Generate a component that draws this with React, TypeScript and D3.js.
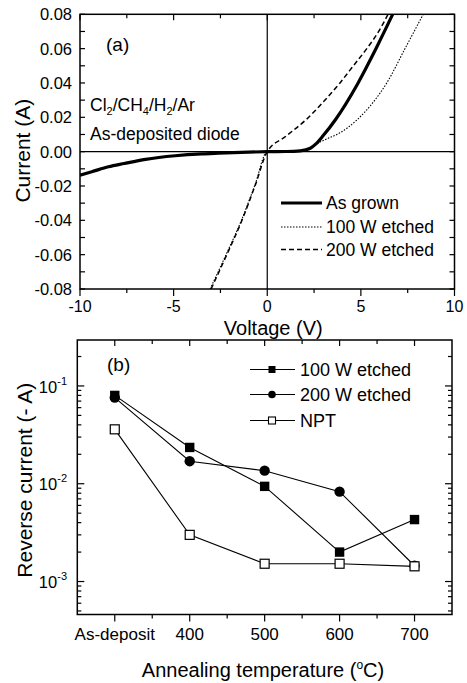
import React from 'react';
import * as d3 from 'd3';

// ---------- Panel (a): I-V curves ----------
const grownV = [-10, -9.37, -8.48, -7.64, -6.5, -4.92, -3.5, -2.6, -1, 0, 1, 1.76, 2.3, 2.6, 3.0, 3.64, 4.83, 5.83, 6.7];
const grownI = [-0.0137, -0.0117, -0.0088, -0.0069, -0.0045, -0.0024, -0.0013, -0.0009, -0.0003, 0, 0.0001, 0.0005, 0.002, 0.0045, 0.0095, 0.0186, 0.0396, 0.0605, 0.08];

const etched100V = [-3.05, -2.2, -1.38, -0.66, 0, 1, 1.8, 2.3, 2.6, 3.2, 3.81, 4.8, 5.6, 6.36, 7.38, 8.33];
const etched100I = [-0.08, -0.06, -0.04, -0.0195, 0, 0.0001, 0.0005, 0.0018, 0.0042, 0.0075, 0.0105, 0.0186, 0.028, 0.0396, 0.0605, 0.08];

const etched200V = [-3.0, -2.16, -1.35, -0.64, 0, 1.0, 2.07, 3.0, 3.85, 4.6, 5.35, 5.95, 6.45];
const etched200I = [-0.08, -0.06, -0.04, -0.0195, 0, 0.009, 0.0186, 0.029, 0.0396, 0.05, 0.0605, 0.07, 0.08];

const ivXTicks = [-10, -5, 0, 5, 10];
const ivYTicks = [-0.08, -0.06, -0.04, -0.02, 0, 0.02, 0.04, 0.06, 0.08];
const ivYTickLabels = ['-0.08', '-0.06', '-0.04', '-0.02', '0.00', '0.02', '0.04', '0.06', '0.08'];

// ---------- Panel (b): reverse current vs annealing ----------
const categories = ['As-deposit', '400', '500', '600', '700'];
const rev100W = [0.08, 0.0235, 0.0094, 0.002, 0.0043];
const rev200W = [0.076, 0.017, 0.0136, 0.0083, 0.00145];
const revNPT = [0.036, 0.003, 0.00152, 0.00152, 0.00143];
const logTicks = [0.1, 0.01, 0.001];
const logTickExp = ['-1', '-2', '-3'];

const FONT = '"Liberation Sans", Arial, Helvetica, sans-serif';

export default function App() {
  const W = 467, H = 683;

  // panel a scales
  const ax = d3.scaleLinear().domain([-10, 10]).range([80, 454.5]);
  const ay = d3.scaleLinear().domain([-0.08, 0.08]).range([289, 14.3]);
  const ivLine = d3.line<[number, number]>().x(d => ax(d[0])).y(d => ay(d[1])).curve(d3.curveMonotoneX);
  const zip = (a: number[], b: number[]) => a.map((v, i) => [v, b[i]] as [number, number]);

  // panel b scales
  const bx = d3.scaleLinear().domain([-0.5, 4.5]).range([77.3, 452]);
  const by = d3.scaleLog().domain([4.6e-4, 0.295]).range([614.5, 340]);
  const catLine = d3.line<number>().x((_, i) => bx(i)).y(d => by(d));

  const [ax0, ax1] = ax.range();
  const [ay1, ay0] = ay.range();
  const [bx0, bx1] = bx.range();
  const [by1, by0] = by.range();

  const aMinorX = d3.range(-10, 10.01, 2.5);
  const aMinorY = d3.range(-0.08, 0.0801, 0.01);
  const bMinorX = d3.range(-0.5, 4.51, 0.5);
  const logMinor: number[] = [];
  [1e-4, 1e-3, 1e-2, 1e-1].forEach(dec => {
    for (let k = 1; k <= 9; k++) {
      const v = dec * k;
      if (v >= 4.6e-4 && v <= 0.295) logMinor.push(v);
    }
  });

  return (
    <svg width={W} height={H} style={{ position: 'absolute', left: 0, top: 0, background: '#fff' }} fontFamily={FONT}>
      <rect x={0} y={0} width={W} height={H} fill="#fff" />
      <defs>
        <clipPath id="clipA"><rect x={ax0} y={ay0} width={ax1 - ax0} height={ay1 - ay0} /></clipPath>
      </defs>

      {/* ===== Panel a ===== */}
      {/* zero lines */}
      <line x1={ax(0)} x2={ax(0)} y1={ay0} y2={ay1} stroke="#000" strokeWidth={1.2} />
      <line x1={ax0} x2={ax1} y1={ay(0)} y2={ay(0)} stroke="#000" strokeWidth={1.2} />

      <g clipPath="url(#clipA)" fill="none" stroke="#000">
        <path d={ivLine(zip(etched100V, etched100I)) || ''} strokeWidth={1.1} strokeDasharray="1.5,1.5" />
        <path d={ivLine(zip(etched200V, etched200I)) || ''} strokeWidth={1.5} strokeDasharray="5,3" />
        <path d={ivLine(zip(grownV, grownI)) || ''} strokeWidth={3.2} />
      </g>

      {/* frame */}
      <rect x={ax0} y={ay0} width={ax1 - ax0} height={ay1 - ay0} fill="none" stroke="#000" strokeWidth={1.5} />

      {/* ticks */}
      {aMinorX.map((v, i) => {
        const major = ivXTicks.some(t => Math.abs(t - v) < 1e-6);
        return (
          <g key={'ax' + i} stroke="#000" strokeWidth={1.2}>
            <line x1={ax(v)} x2={ax(v)} y1={ay1} y2={ay1 + (major ? 7 : 4)} />
            <line x1={ax(v)} x2={ax(v)} y1={ay0} y2={ay0 + (major ? 6 : 4)} />
          </g>
        );
      })}
      {aMinorY.map((v, i) => (
        <g key={'ay' + i} stroke="#000" strokeWidth={1.2}>
          <line x1={ax0} x2={ax0 + 5} y1={ay(v)} y2={ay(v)} />
          <line x1={ax1} x2={ax1 - 5} y1={ay(v)} y2={ay(v)} />
        </g>
      ))}

      {/* tick labels */}
      {ivXTicks.map(v => (
        <text key={'axl' + v} x={ax(v)} y={312} textAnchor="middle" fontSize={16}>{v}</text>
      ))}
      {ivYTicks.map((v, i) => (
        <text key={'ayl' + i} x={72} y={ay(v)} dy="0.36em" textAnchor="end" fontSize={16.5}>{ivYTickLabels[i]}</text>
      ))}

      {/* axis titles */}
      <text x={ax(0) + 6} y={334.5} textAnchor="middle" fontSize={20}>Voltage (V)</text>
      <text transform={`translate(30,${(ay0 + ay1) / 2 - 1}) rotate(-90)`} textAnchor="middle" fontSize={21}>Current (A)</text>

      {/* annotations */}
      <text x={106} y={51} fontSize={19}>(a)</text>
      <text x={90} y={111} fontSize={17.5}>
        Cl<tspan fontSize={11} dy={4}>2</tspan><tspan dy={-4}>/CH</tspan><tspan fontSize={11} dy={4}>4</tspan><tspan dy={-4}>/H</tspan><tspan fontSize={11} dy={4}>2</tspan><tspan dy={-4}>/Ar</tspan>
      </text>
      <text x={90} y={140} fontSize={17.5}>As-deposited diode</text>

      {/* legend a */}
      <g fontSize={17.5}>
        <line x1={281} x2={322} y1={203} y2={203} stroke="#000" strokeWidth={3} />
        <text x={326} y={203} dy="0.35em">As grown</text>
        <line x1={281} x2={322} y1={227} y2={227} stroke="#000" strokeWidth={1.1} strokeDasharray="1.5,1.5" />
        <text x={326} y={227} dy="0.35em">100 W etched</text>
        <line x1={281} x2={322} y1={249.5} y2={249.5} stroke="#000" strokeWidth={1.5} strokeDasharray="5,3" />
        <text x={326} y={249.5} dy="0.35em">200 W etched</text>
      </g>

      {/* ===== Panel b ===== */}
      <rect x={bx0} y={by0} width={bx1 - bx0} height={by1 - by0} fill="none" stroke="#000" strokeWidth={1.5} />

      {bMinorX.map((v, i) => {
        const major = Math.abs(v - Math.round(v)) < 1e-6;
        if (v <= -0.5 + 1e-6 || v >= 4.5 - 1e-6) return null;
        return (
          <g key={'bx' + i} stroke="#000" strokeWidth={1.2}>
            <line x1={bx(v)} x2={bx(v)} y1={by1} y2={by1 + (major ? 7 : 4)} />
            <line x1={bx(v)} x2={bx(v)} y1={by0} y2={by0 + (major ? 6 : 4)} />
          </g>
        );
      })}
      {logMinor.map((v, i) => {
        const major = logTicks.some(t => Math.abs(t - v) / t < 1e-6);
        const len = major ? 7 : 4;
        return (
          <g key={'by' + i} stroke="#000" strokeWidth={1.2}>
            <line x1={bx0} x2={bx0 + len} y1={by(v)} y2={by(v)} />
            <line x1={bx1} x2={bx1 - len} y1={by(v)} y2={by(v)} />
          </g>
        );
      })}

      {categories.map((c, i) => (
        <text key={'bxl' + i} x={bx(i)} y={640} textAnchor="middle" fontSize={17}>{c}</text>
      ))}
      {logTicks.map((v, i) => (
        <text key={'byl' + i} x={67} y={by(v)} dy="0.4em" textAnchor="end" fontSize={16.5}>
          10<tspan fontSize={11} dy={-8}>{logTickExp[i]}</tspan>
        </text>
      ))}

      <text x={263} y={677} textAnchor="middle" fontSize={20}>
        Annealing temperature (<tspan fontSize={12} dy={-8}>o</tspan><tspan dy={8}>C)</tspan>
      </text>
      <text transform={`translate(32,${(by0 + by1) / 2 + 3}) rotate(-90)`} textAnchor="middle" fontSize={21}>Reverse current (- A)</text>

      <text x={107} y={371} fontSize={19}>(b)</text>

      {/* series lines */}
      <g fill="none" stroke="#000" strokeWidth={1.1}>
        <path d={catLine(rev100W) || ''} />
        <path d={catLine(rev200W) || ''} />
        <path d={catLine(revNPT) || ''} />
      </g>
      {/* markers */}
      {rev200W.map((v, i) => (
        <circle key={'c' + i} cx={bx(i)} cy={by(v)} r={5.2} fill="#000" />
      ))}
      {rev100W.map((v, i) => (
        <rect key={'s' + i} x={bx(i) - 4.7} y={by(v) - 4.7} width={9.4} height={9.4} fill="#000" />
      ))}
      {revNPT.map((v, i) => (
        <rect key={'o' + i} x={bx(i) - 4.5} y={by(v) - 4.5} width={9} height={9} fill="#fff" stroke="#000" strokeWidth={1.2} />
      ))}

      {/* legend b */}
      <g fontSize={18}>
        {[0, 1, 2].map(k => {
          const yy = [369.5, 394.5, 420.5][k];
          const label = ['100 W etched', '200 W etched', 'NPT'][k];
          return (
            <g key={'lb' + k}>
              <line x1={250} x2={295} y1={yy} y2={yy} stroke="#000" strokeWidth={1.1} />
              {k === 0 && <rect x={268.5} y={yy - 3.5} width={7} height={7} fill="#000" />}
              {k === 1 && <circle cx={272} cy={yy} r={3.8} fill="#000" />}
              {k === 2 && <rect x={268.5} y={yy - 3.5} width={7} height={7} fill="#fff" stroke="#000" strokeWidth={1.1} />}
              <text x={300} y={yy} dy="0.36em">{label}</text>
            </g>
          );
        })}
      </g>
    </svg>
  );
}
